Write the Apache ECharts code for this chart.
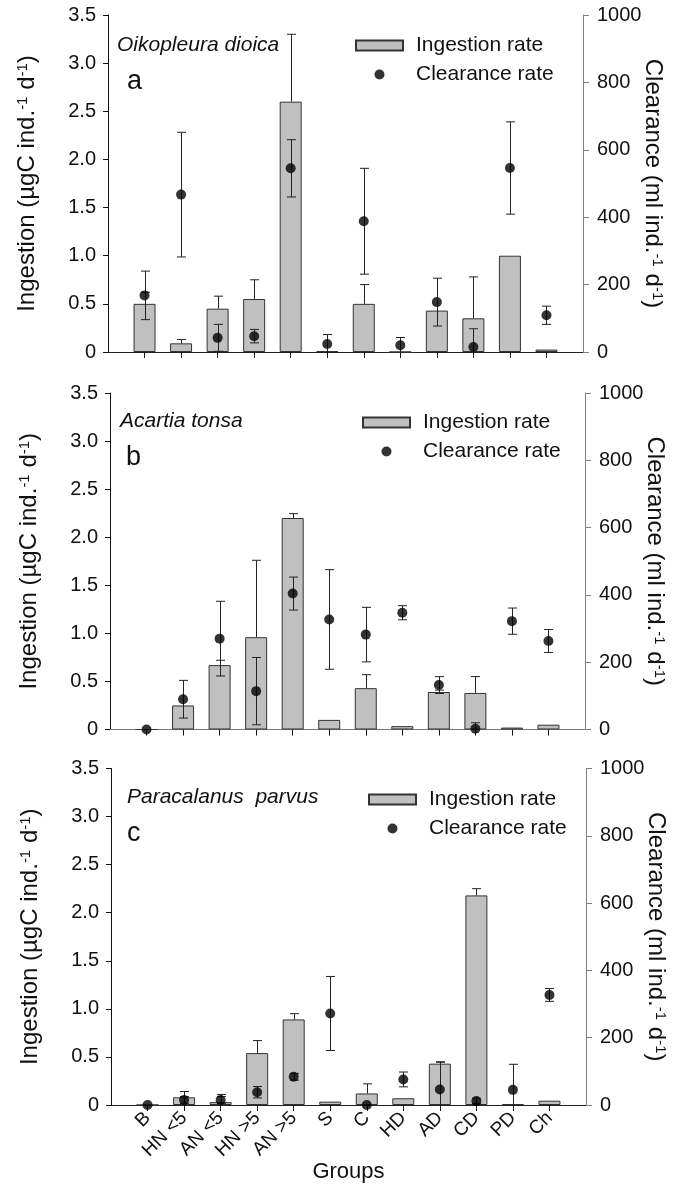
<!DOCTYPE html>
<html><head><meta charset="utf-8">
<script src="https://cdn.jsdelivr.net/npm/echarts@6/dist/echarts.min.js"></script>
<style>html,body{margin:0;padding:0;background:#fff}#c{width:688px;height:1184px}</style>
</head><body><div id="c"></div>
<script>
// ---- data ----
const groups = ['B','HN <5','AN <5','HN >5','AN >5','S','C','HD','AD','CD','PD','Ch'];
const leftTicks = [0, 0.5, 1.0, 1.5, 2.0, 2.5, 3.0, 3.5];
const rightTicks = [0, 200, 400, 600, 800, 1000];

// panel a: Oikopleura dioica
const ingA    = [0.50, 0.09, 0.45, 0.55, 2.60, 0.01, 0.50, 0.00, 0.43, 0.35, 1.00, 0.025];
const ingErrA = [0.12, 0.04, 0.13, 0.20, 0.70, 0.00, 0.20, 0.00, 0.00, 0.43, 0.00, 0.00];
const clrA    = [168, 467, 42, 47, 545, 24, 388, 20, 148, 15, 546, 109];
const clrErrA = [72, 185, 40, 20, 85, 28, 157, 23, 71, 54, 137, 27];

// panel b: Acartia tonsa
const ingB    = [0.00, 0.25, 0.67, 0.96, 2.20, 0.10, 0.43, 0.035, 0.39, 0.38, 0.02, 0.05];
const ingErrB = [0.00, 0.00, 0.05, 0.80, 0.045, 0.00, 0.14, 0.00, 0.02, 0.17, 0.00, 0.00];
const clrB    = [0, 90, 270, 114, 404, 327, 282, 347, 132, 2, 322, 263];
const clrErrB = [0, 56, 111, 100, 49, 148, 81, 21, 25, 18, 39, 34];

// panel c: Paracalanus parvus
const ingC    = [0.00, 0.08, 0.03, 0.54, 0.89, 0.035, 0.12, 0.07, 0.43, 2.18, 0.01, 0.045];
const ingErrC = [0.00, 0.06, 0.08, 0.13, 0.06, 0.00, 0.10, 0.00, 0.02, 0.07, 0.00, 0.00];
const clrC    = [0, 15, 15, 38, 84, 272, 0, 76, 46, 12, 45, 327];
const clrErrC = [0, 10, 10, 17, 10, 110, 0, 22, 81, 8, 76, 19];

// ---- layout ----
const FONT = "'Liberation Sans', Arial, Helvetica, sans-serif";
const categories = [''].concat(groups, ['']);
const panels = [
  {grid:{left:108, top:15, width:475, height:337}, species:'Oikopleura dioica', letter:'a',
   ing:ingA, ingErr:ingErrA, clr:clrA, clrErr:clrErrA, topColor:'#222', legend:{left:355, top:35},
   speciesPos:[117,47], letterPos:[127,84]},
  {grid:{left:110, top:393, width:475, height:336.5}, species:'Acartia tonsa', letter:'b',
   ing:ingB, ingErr:ingErrB, clr:clrB, clrErr:clrErrB, topColor:'#777', legend:{left:362, top:412},
   speciesPos:[120,423], letterPos:[126,460]},
  {grid:{left:111, top:768.5, width:475, height:336.5}, species:'Paracalanus  parvus', letter:'c',
   ing:ingC, ingErr:ingErrC, clr:clrC, clrErr:clrErrC, topColor:'#222', legend:{left:368, top:789},
   speciesPos:[127,799], letterPos:[127,836]}
];

function errItem(params, api) {
  const x = api.value(0), lo = api.value(1), hi = api.value(2), lowCap = api.value(3);
  if (!(hi > lo)) return null;
  const loC = Math.max(lo, 0);
  const pHi = api.coord([x, hi]);
  const pLo = api.coord([x, loC]);
  const cx = Math.round(pHi[0]) + 0.5;
  const hw = 4.5;
  const st = {stroke:'#222', lineWidth:1};
  const ch = [
    {type:'line', shape:{x1:cx, y1:pHi[1], x2:cx, y2:pLo[1]}, style:st},
    {type:'line', shape:{x1:cx-hw, y1:pHi[1], x2:cx+hw, y2:pHi[1]}, style:st}
  ];
  if (lowCap && lo >= 0) ch.push({type:'line', shape:{x1:cx-hw, y1:pLo[1], x2:cx+hw, y2:pLo[1]}, style:st});
  return {type:'group', children:ch};
}

const option = {
  animation:false,
  textStyle:{fontFamily:FONT},
  grid:[], xAxis:[], yAxis:[], series:[], legend:[], graphic:[]
};

panels.forEach((p, i) => {
  const last = i === panels.length - 1;
  option.grid.push(p.grid);
  option.xAxis.push({
    type:'category', gridIndex:i, data:categories, boundaryGap:false,
    axisLine:{lineStyle:{color:'#111', width:1}},
    axisTick:{show:true, length:6, inside:false, lineStyle:{color:'#111'},
      interval:(idx)=> idx>0 && idx<categories.length-1},
    axisLabel:{show:last, rotate:45, fontSize:19, color:'#111', margin:10, fontFamily:FONT,
      interval:(idx)=> idx>0 && idx<categories.length-1},
    name: last ? 'Groups' : '', nameLocation:'middle', nameGap:56, nameMoveOverlap:false,
    nameTextStyle:{fontSize:22, color:'#111', fontFamily:FONT},
    splitLine:{show:false}
  });
  option.xAxis.push({
    type:'category', gridIndex:i, data:categories, boundaryGap:false, position:'top',
    axisLine:{lineStyle:{color:p.topColor, width:1}}, axisTick:{show:false}, axisLabel:{show:false},
    splitLine:{show:false}
  });
  option.yAxis.push({
    type:'value', gridIndex:i, min:leftTicks[0], max:leftTicks[leftTicks.length-1], interval:0.5,
    axisLine:{show:true, lineStyle:{color:'#111'}},
    axisTick:{show:true, length:5, lineStyle:{color:'#111'}},
    axisLabel:{fontSize:20, color:'#111', margin:12, fontFamily:FONT,
      formatter:(v)=> v===0 ? '0' : v.toFixed(1)},
    splitLine:{show:false},
    name:'Ingestion (µgC ind.{s|-1} d{s|-1})', nameLocation:'middle', nameGap:69, nameMoveOverlap:false,
    nameTextStyle:{fontSize:24, color:'#111', fontFamily:FONT,
      rich:{s:{fontSize:15, verticalAlign:'top', color:'#111', fontFamily:FONT}}}
  });
  option.yAxis.push({
    type:'value', gridIndex:i, position:'right', min:rightTicks[0], max:rightTicks[rightTicks.length-1], interval:200,
    axisLine:{show:true, lineStyle:{color:'#808080'}},
    axisTick:{show:true, length:6, lineStyle:{color:'#808080'}},
    axisLabel:{fontSize:20, color:'#111', margin:14, fontFamily:FONT, formatter:(v)=> String(v)},
    splitLine:{show:false},
    name:'Clearance (ml ind.{s|-1} d{s|-1})', nameLocation:'middle', nameGap:58, nameRotate:-90, nameMoveOverlap:false,
    nameTextStyle:{fontSize:24, color:'#111', fontFamily:FONT,
      rich:{s:{fontSize:15, verticalAlign:'top', color:'#111', fontFamily:FONT}}}
  });
  const xa = i*2, ya = i*2, yb = i*2+1;
  option.series.push({
    type:'bar', name:'Ingestion rate', xAxisIndex:xa, yAxisIndex:ya, barWidth:22, z:2,
    itemStyle:{color:'#c0c0c0', borderColor:'#333', borderWidth:1},
    data:p.ing.map((v,k)=>[k+1, v])
  });
  option.series.push({
    type:'custom', xAxisIndex:xa, yAxisIndex:ya, z:3, renderItem:errItem,
    encode:{x:0, y:[1,2]},
    data:p.ing.map((v,k)=>[k+1, v, v + p.ingErr[k], 0])
  });
  option.series.push({
    type:'custom', xAxisIndex:xa, yAxisIndex:yb, z:4, renderItem:errItem,
    encode:{x:0, y:[1,2]},
    data:p.clr.map((v,k)=>[k+1, v - p.clrErr[k], v + p.clrErr[k], 1])
  });
  option.series.push({
    type:'scatter', name:'Clearance rate', xAxisIndex:xa, yAxisIndex:yb, z:5,
    symbol:'circle', symbolSize:10, itemStyle:{color:'#000'},
    data:p.clr.map((v,k)=>[k+1, v])
  });
  option.legend.push({
    left:p.legend.left, top:p.legend.top, orient:'vertical', itemWidth:47, itemHeight:10, itemGap:8,
    padding:0, selectedMode:false,
    textStyle:{fontSize:21, color:'#111', fontFamily:FONT, padding:[0,0,0,8]},
    data:[{name:'Ingestion rate', icon:'rect'}, {name:'Clearance rate', icon:'circle'}]
  });
  option.graphic.push({
    type:'text', left:p.speciesPos[0], top:p.speciesPos[1]-12,
    style:{text:p.species, font:"italic 21px " + FONT, fill:'#111'}
  });
  option.graphic.push({
    type:'text', left:p.letterPos[0], top:p.letterPos[1]-16,
    style:{text:p.letter, font:"27px " + FONT, fill:'#111'}
  });
});

const chart = echarts.init(document.getElementById('c'), null, {renderer:'canvas'});
chart.setOption(option);
</script>
</body></html>
